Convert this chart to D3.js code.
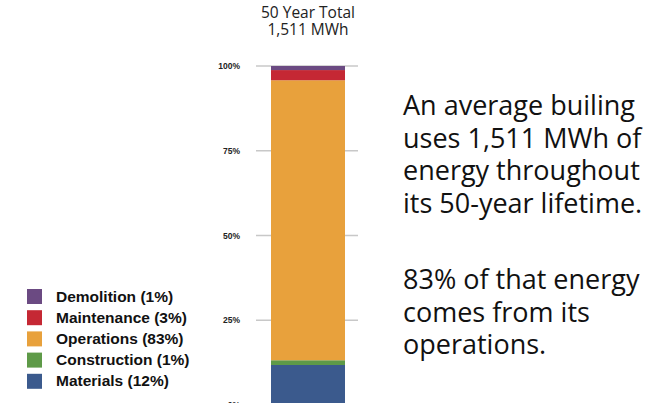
<!DOCTYPE html>
<html>
<head>
<meta charset="utf-8">
<script src="https://cdn.jsdelivr.net/npm/d3@7"></script>
<style>
  body { margin: 0; background: #fff; }
  #chart { width: 654px; height: 403px; overflow: hidden; }
</style>
</head>
<body>
<div id="chart"></div>
<script>
// stacked segments, bottom to top
const categories = ["Materials", "Construction", "Operations", "Maintenance", "Demolition"];
const shares = [11.8, 1.4, 82.6, 3.0, 1.2];
const legendLabels = ["Demolition (1%)", "Maintenance (3%)", "Operations (83%)", "Construction (1%)", "Materials (12%)"];
const tickValues = [0, 25, 50, 75, 100];
const titleLines = ["50 Year Total", "1,511 MWh"];
const paragraph1 = ["An average builing", "uses 1,511 MWh of", "energy throughout", "its 50-year lifetime."];
const paragraph2 = ["83% of that energy", "comes from its", "operations."];

const colors = {
  Materials: "#3b5a8d",
  Construction: "#5e9a48",
  Operations: "#e8a13c",
  Maintenance: "#c52834",
  Demolition: "#6b4a82"
};

const svg = d3.select("#chart").append("svg")
  .attr("width", 654)
  .attr("height", 403);

// y scale: 0% sits just below the bottom edge
const y = d3.scaleLinear().domain([0, 100]).range([405, 66]);

// gridlines
svg.selectAll("line.grid")
  .data(tickValues)
  .enter().append("line")
  .attr("class", "grid")
  .attr("x1", 256)
  .attr("x2", 358)
  .attr("y1", d => y(d))
  .attr("y2", d => y(d))
  .style("stroke", "#c8c8c8")
  .style("stroke-width", 1.5);

// tick labels via axis
const yAxis = d3.axisLeft(y)
  .tickValues(tickValues)
  .tickSize(0)
  .tickPadding(0)
  .tickFormat(d => d + "%");

const axisG = svg.append("g")
  .attr("transform", "translate(240,0)")
  .call(yAxis);
axisG.select(".domain").remove();
axisG.selectAll("text")
  .style("font-family", "Liberation Sans, Arial, sans-serif")
  .style("font-size", "8.5px")
  .style("font-weight", "bold")
  .style("fill", "#222");

// stacked bar
let acc = 0;
const stacked = categories.map((c, i) => {
  const s = { key: c, y0: acc, y1: acc + shares[i] };
  acc += shares[i];
  return s;
});

svg.selectAll("rect.seg")
  .data(stacked)
  .enter().append("rect")
  .attr("class", "seg")
  .attr("x", 271)
  .attr("width", 74)
  .attr("y", d => y(d.y1))
  .attr("height", d => y(d.y0) - y(d.y1))
  .attr("fill", d => colors[d.key]);

// title
svg.selectAll("text.title")
  .data(titleLines)
  .enter().append("text")
  .attr("class", "title")
  .attr("x", 308)
  .attr("y", (d, i) => 18 + i * 17)
  .attr("text-anchor", "middle")
  .style("font-family", "Open Sans, sans-serif")
  .style("font-size", "15.5px")
  .style("fill", "#222")
  .text(d => d);

// legend
const legend = svg.selectAll("g.legend")
  .data(legendLabels)
  .enter().append("g")
  .attr("class", "legend")
  .attr("transform", (d, i) => "translate(27," + (289 + i * 21.2) + ")");

legend.append("rect")
  .attr("width", 15)
  .attr("height", 15)
  .attr("fill", (d, i) => colors[categories[categories.length - 1 - i]]);

legend.append("text")
  .attr("x", 29)
  .attr("y", 12.5)
  .style("font-family", "Liberation Sans, Arial, sans-serif")
  .style("font-size", "15.5px")
  .style("font-weight", "bold")
  .style("fill", "#111")
  .text(d => d);

// side text
const sideFont = "Open Sans, sans-serif";
svg.selectAll("text.p1")
  .data(paragraph1)
  .enter().append("text")
  .attr("class", "p1")
  .attr("x", 403)
  .attr("y", (d, i) => 115 + i * 32.7)
  .style("font-family", sideFont)
  .style("font-size", "27px")
  .style("fill", "#111")
  .text(d => d);

svg.selectAll("text.p2")
  .data(paragraph2)
  .enter().append("text")
  .attr("class", "p2")
  .attr("x", 403)
  .attr("y", (d, i) => 289 + i * 32.7)
  .style("font-family", sideFont)
  .style("font-size", "27px")
  .style("fill", "#111")
  .text(d => d);
</script>
</body>
</html>
